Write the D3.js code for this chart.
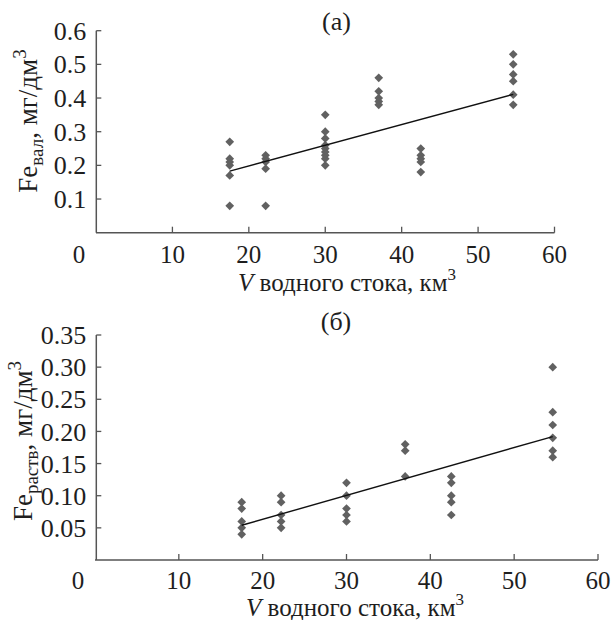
<html>
    <head>
        <script src="https://d3js.org/d3.v7.min.js"></script>
        <style>
            body { margin: 0; background: #fff; }
        </style>
    </head>
    <body>
        <script type="text/javascript">
            // water runoff volume, km3 (same years in both panels)
            var volumes = [17.5, 22.2, 30.0, 37.0, 42.5, 54.6];

            // total iron, mg/dm3 - one list per runoff value
            var feTotal = [
                [0.27, 0.22, 0.21, 0.20, 0.17, 0.08],
                [0.23, 0.22, 0.21, 0.19, 0.08],
                [0.35, 0.30, 0.28, 0.26, 0.25, 0.24, 0.23, 0.22, 0.20],
                [0.46, 0.42, 0.40, 0.39, 0.38],
                [0.25, 0.23, 0.22, 0.21, 0.18],
                [0.53, 0.50, 0.47, 0.45, 0.41, 0.38]
            ];

            // dissolved iron, mg/dm3
            var feDiss = [
                [0.09, 0.08, 0.06, 0.05, 0.04],
                [0.10, 0.09, 0.07, 0.06, 0.05],
                [0.12, 0.10, 0.08, 0.07, 0.06],
                [0.18, 0.17, 0.13],
                [0.13, 0.12, 0.10, 0.09, 0.07],
                [0.30, 0.23, 0.21, 0.19, 0.17, 0.16]
            ];

            // linear trend end points
            var trendTotal = [[17.5, 0.183], [54.6, 0.411]];
            var trendDiss = [[17.5, 0.054], [54.6, 0.192]];

            var xTicks = [0, 10, 20, 30, 40, 50, 60];
            var yTicksTotal = [0.1, 0.2, 0.3, 0.4, 0.5, 0.6];
            var yTicksDiss = [0.05, 0.10, 0.15, 0.20, 0.25, 0.30, 0.35];

            const width = 611;
            const height = 620;
            const serif = "'Liberation Serif', Tinos, 'Times New Roman', 'DejaVu Serif', serif";

            const svg = d3.select('body')
                .append('svg')
                .attr('width', width)
                .attr('height', height)
                .attr('font-family', serif)
                .style('font-family', serif);

            function flatten(groups) {
                var pts = [];
                groups.forEach(function(g, i) {
                    g.forEach(function(v) { pts.push({x: volumes[i], y: v}); });
                });
                return pts;
            }

            function drawPanel(o) {
                var x = d3.scaleLinear().domain([0, 60]).range(o.xRange);
                var y = d3.scaleLinear().domain(o.yDomain).range(o.yRange);
                var g = svg.append('g').attr('fill', '#1e1e1e');
                var axisColor = '#555';

                // axis lines
                g.append('line')
                    .attr('x1', x(0)).attr('x2', x(60))
                    .attr('y1', y(0)).attr('y2', y(0))
                    .style('stroke', axisColor).style('stroke-width', 1.5);
                g.append('line')
                    .attr('x1', o.yAxisX).attr('x2', o.yAxisX)
                    .attr('y1', y(0)).attr('y2', y(o.yDomain[1]))
                    .style('stroke', axisColor).style('stroke-width', 1.5);

                // x ticks (inside, upward) and labels
                g.selectAll('.xt')
                    .data(xTicks.slice(1))
                    .enter().append('line')
                    .attr('x1', d => x(d)).attr('x2', d => x(d))
                    .attr('y1', y(0)).attr('y2', y(0) - 6)
                    .style('stroke', axisColor).style('stroke-width', 1.3);
                g.selectAll('.xl')
                    .data(xTicks)
                    .enter().append('text')
                    .attr('x', d => d === 0 ? x(d) - 17 : x(d))
                    .attr('y', o.xLabelY)
                    .attr('text-anchor', 'middle')
                    .style('font-size', '25px')
                    .text(d => d);

                // y ticks (inside) and labels
                g.selectAll('.yt')
                    .data(o.yTicks)
                    .enter().append('line')
                    .attr('x1', o.yAxisX).attr('x2', o.yAxisX + 5)
                    .attr('y1', d => y(d)).attr('y2', d => y(d))
                    .style('stroke', axisColor).style('stroke-width', 1.3);
                g.selectAll('.yl')
                    .data(o.yTicks)
                    .enter().append('text')
                    .attr('x', o.yAxisX - 10)
                    .attr('y', d => y(d))
                    .attr('dy', '0.35em')
                    .attr('text-anchor', 'end')
                    .style('font-size', '26px')
                    .text(d => d3.format(o.fmt)(d));

                // points
                var diamond = d3.symbol().type(d3.symbolSquare).size(38);
                g.selectAll('.pt')
                    .data(flatten(o.groups))
                    .enter().append('path')
                    .attr('d', diamond)
                    .attr('transform', d => 'translate(' + x(d.x) + ',' + y(d.y) + ') rotate(45)')
                    .style('fill', '#616161');

                // trend line
                g.append('path')
                    .datum(o.trend)
                    .attr('d', d3.line().x(d => x(d[0])).y(d => y(d[1])))
                    .style('stroke', '#111')
                    .style('stroke-width', 1.4)
                    .style('fill', 'none');

                // panel letter
                g.append('text')
                    .attr('x', o.letterX).attr('y', o.letterY)
                    .attr('text-anchor', 'middle')
                    .style('font-size', '26px')
                    .text(o.letter);

                // x title
                var xt = g.append('text')
                    .attr('x', o.xTitleX).attr('y', o.xTitleY)
                    .attr('text-anchor', 'middle')
                    .style('font-size', '25px');
                xt.append('tspan').style('font-style', 'italic').text('V');
                xt.append('tspan').text(' водного стока, км');
                xt.append('tspan').attr('dy', -11).style('font-size', '17px').text('3');

                // y title
                var yt = g.append('text')
                    .attr('transform', 'translate(' + o.yTitleX + ',' + o.yTitleY + ') rotate(-90)')
                    .attr('text-anchor', 'middle')
                    .style('font-size', '27px');
                yt.append('tspan').text('Fe');
                yt.append('tspan').attr('dy', 6).style('font-size', '19px').text(o.sub);
                yt.append('tspan').attr('dy', -6).text(', мг/дм');
                yt.append('tspan').attr('dy', -11).style('font-size', '19px').text('3');
            }

            drawPanel({
                xRange: [96, 554.5], yDomain: [0, 0.6], yRange: [232.7, 30.7],
                yAxisX: 96.3, yTicks: yTicksTotal, fmt: '.1f',
                groups: feTotal, trend: trendTotal,
                xLabelY: 263, letter: '(а)', letterX: 336.5, letterY: 30,
                xTitleX: 347, xTitleY: 291,
                yTitleX: 36.7, yTitleY: 121, sub: 'вал'
            });

            drawPanel({
                xRange: [95, 598], yDomain: [0, 0.35], yRange: [560, 335],
                yAxisX: 96.3, yTicks: yTicksDiss, fmt: '.2f',
                groups: feDiss, trend: trendDiss,
                xLabelY: 589, letter: '(б)', letterX: 336, letterY: 330,
                xTitleX: 355, xTitleY: 616,
                yTitleX: 31.7, yTitleY: 441, sub: 'раств'
            });
        </script>
    </body>
</html>
